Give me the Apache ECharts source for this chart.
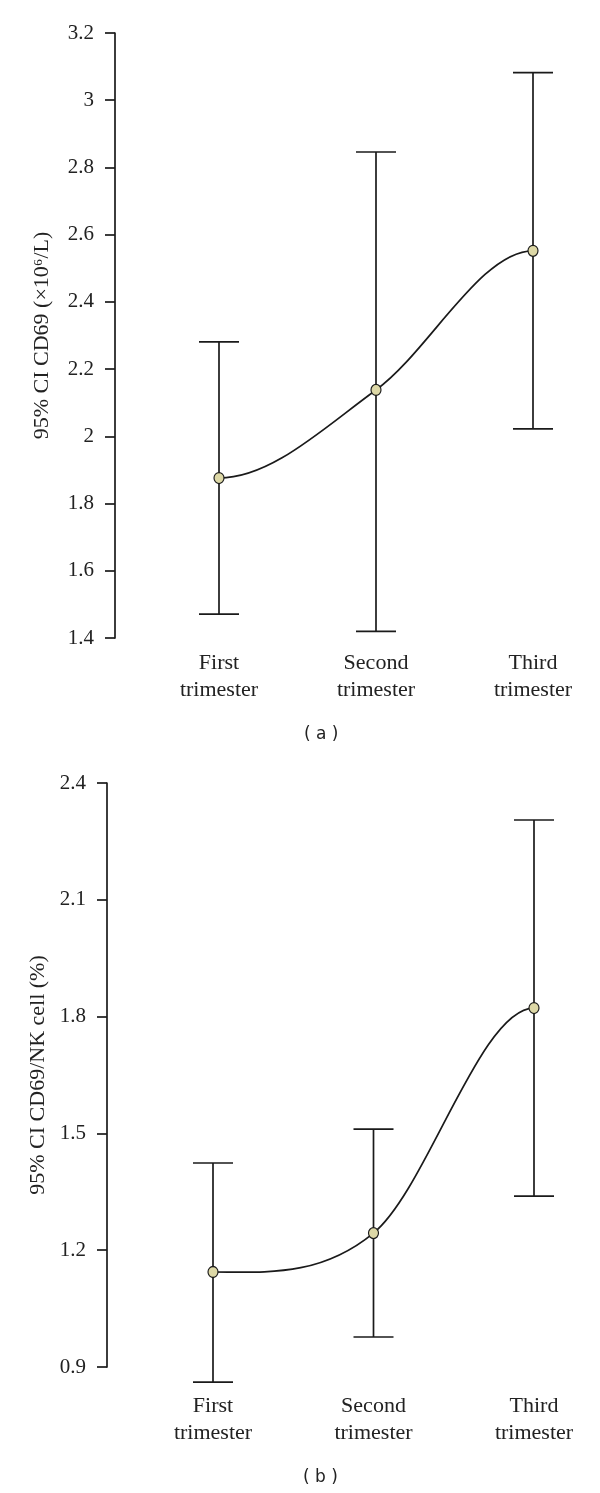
<!DOCTYPE html>
<html>
<head>
<meta charset="utf-8">
<script src="https://cdn.jsdelivr.net/npm/echarts@6/dist/echarts.min.js"></script>
<style>
  html, body { margin: 0; padding: 0; background: #fff; }
  #main { width: 600px; height: 1493px; }
</style>
</head>
<body>
<div id="main"></div>
<script>
// categories shared by both panels
const categories = ['First\ntrimester', 'Second\ntrimester', 'Third\ntrimester'];

// panel (a): 95% CI CD69 (x10^6/L)
const aMean = [1.876, 2.138, 2.552];
const aLow = [1.471, 1.42, 2.022];
const aHigh = [2.281, 2.846, 3.082];
const aAxis = [1.4, 3.2, 0.2]; // min, max, step

// panel (b): 95% CI CD69/NK cell (%)
const bMean = [1.144, 1.244, 1.822];
const bLow = [0.861, 0.977, 1.339];
const bHigh = [1.424, 1.511, 2.305];
const bAxis = [0.9, 2.4, 0.3];

const ink = '#1a1a1a';
const serif = '"Liberation Serif", "DejaVu Serif", serif';

function errorBar(params, api) {
  const x = api.value(0);
  const top = api.coord([x, api.value(2)]);
  const bot = api.coord([x, api.value(1)]);
  const hw = 20;
  const style = { stroke: ink, lineWidth: 1.7 };
  return {
    type: 'group',
    children: [
      { type: 'line', shape: { x1: top[0], y1: top[1], x2: bot[0], y2: bot[1] }, style: style },
      { type: 'line', shape: { x1: top[0] - hw, y1: top[1], x2: top[0] + hw, y2: top[1] }, style: style },
      { type: 'line', shape: { x1: bot[0] - hw, y1: bot[1], x2: bot[0] + hw, y2: bot[1] }, style: style }
    ]
  };
}

function xAxisFor(idx, margin) {
  return {
    type: 'category',
    gridIndex: idx,
    data: categories,
    boundaryGap: false,
    axisLine: { show: false },
    axisTick: { show: false },
    axisLabel: {
      margin: margin,
      color: '#222',
      fontFamily: serif,
      fontSize: 22,
      lineHeight: 27
    }
  };
}

function yAxisFor(idx, ax, name, offset, gap) {
  return {
    type: 'value',
    gridIndex: idx,
    min: ax[0],
    max: ax[1],
    interval: ax[2],
    offset: offset,
    name: name,
    nameLocation: 'middle',
    nameGap: gap,
    nameTextStyle: { color: '#222', fontFamily: serif, fontSize: 22 },
    axisLine: { show: true, lineStyle: { color: ink, width: 1.7 } },
    axisTick: { show: true, length: 10, lineStyle: { color: ink, width: 1.7 } },
    axisLabel: { margin: 21, color: '#222', fontFamily: serif, fontSize: 21 },
    splitLine: { show: false }
  };
}

// smooth curve through the means, flat at both ends (cubic Hermite)
function meanCurve(idx, values) {
  return {
    type: 'custom',
    xAxisIndex: idx,
    yAxisIndex: idx,
    clip: false,
    z: 4,
    encode: { x: 0, y: [1, 2] },
    data: values.slice(0, -1).map((v, i) => [i, v, values[i + 1]]),
    renderItem: function (params, api) {
      const i = api.value(0);
      const pts = values.map((v, k) => api.coord([k, v]));
      const n = pts.length;
      const slope = k => (k === 0 || k === n - 1) ? 0
        : (pts[k + 1][1] - pts[k - 1][1]) / (pts[k + 1][0] - pts[k - 1][0]);
      const a = pts[i], b = pts[i + 1];
      const dx = (b[0] - a[0]) / 3;
      return {
        type: 'bezierCurve',
        shape: {
          x1: a[0], y1: a[1], x2: b[0], y2: b[1],
          cpx1: a[0] + dx, cpy1: a[1] + slope(i) * dx,
          cpx2: b[0] - dx, cpy2: b[1] - slope(i + 1) * dx
        },
        style: { stroke: ink, fill: 'none', lineWidth: 1.7 }
      };
    }
  };
}

function meanDots(idx, values) {
  return {
    type: 'scatter',
    xAxisIndex: idx,
    yAxisIndex: idx,
    data: values,
    clip: false,
    z: 5,
    symbol: 'circle',
    symbolSize: [10, 11],
    itemStyle: { color: '#ddd8a6', borderColor: ink, borderWidth: 1.2, opacity: 1 }
  };
}

function bars(idx, low, high) {
  return {
    type: 'custom',
    xAxisIndex: idx,
    yAxisIndex: idx,
    clip: false,
    z: 2,
    renderItem: errorBar,
    encode: { x: 0, y: [1, 2] },
    data: low.map((l, i) => [i, l, high[i]])
  };
}

const chart = echarts.init(document.getElementById('main'), null, { renderer: 'canvas' });
chart.setOption({
  backgroundColor: '#fff',
  animation: false,
  grid: [
    { left: 219, width: 314, top: 33, height: 605 },
    { left: 213, width: 321, top: 783, height: 584 }
  ],
  xAxis: [xAxisFor(0, 12), xAxisFor(1, 26)],
  yAxis: [
    yAxisFor(0, aAxis, '95% CI CD69 (×10⁶/L)', 104, 62),
    yAxisFor(1, bAxis, '95% CI CD69/NK cell (%)', 106, 58)
  ],
  graphic: [
    { type: 'text', left: 304, top: 726, style: { text: '( a )', font: '17px "DejaVu Sans", sans-serif', fill: '#222' } },
    { type: 'text', left: 303, top: 1469, style: { text: '( b )', font: '17px "DejaVu Sans", sans-serif', fill: '#222' } }
  ],
  series: [
    bars(0, aLow, aHigh),
    meanCurve(0, aMean),
    meanDots(0, aMean),
    bars(1, bLow, bHigh),
    meanCurve(1, bMean),
    meanDots(1, bMean)
  ]
});
</script>
</body>
</html>
